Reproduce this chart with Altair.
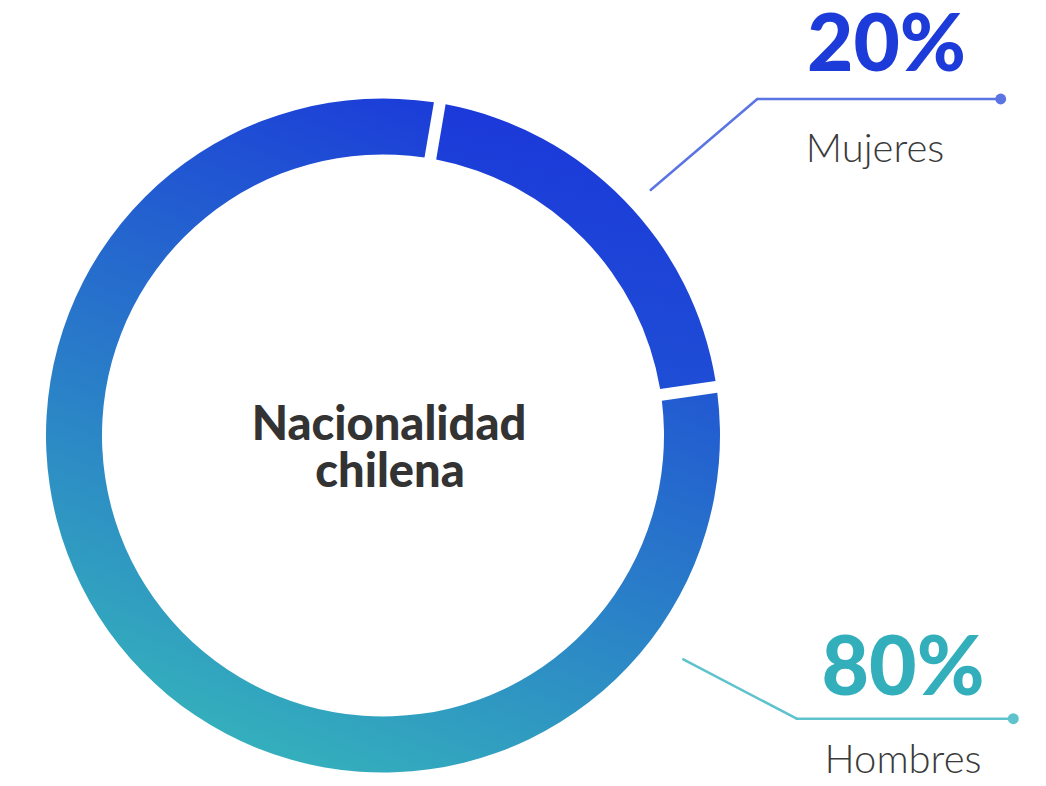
import math
import altair as alt
import pandas as pd

# ---- data ----
categories = ["Mujeres", "Hombres"]
values = [20, 80]
center_lines = ["Nacionalidad", "chilena"]

df = pd.DataFrame({"cat": categories, "value": values, "order": list(range(len(categories)))})
df_center = pd.DataFrame({"line": center_lines, "idx": list(range(len(center_lines)))})

# ---- layout / style ----
W, H = 1030, 770
CX, CY = 375, 427.5
R_OUT, R_IN = 337, 281
START = math.radians(9.7)
PAD = 0.027
FONT = "Lato"

BLUE = "#1c3bd9"
TEAL = "#33afbb"
BLUE_LINE = "#5b74e4"
TEAL_LINE = "#5ec3cc"
GREY = "#3a3a3a"

grad_mujeres = {
    "gradient": "linear", "x1": 0.6, "y1": 0, "x2": 0.4, "y2": 1,
    "stops": [{"offset": 0, "color": "#1b37da"}, {"offset": 1, "color": "#1f50d5"}],
}
grad_hombres = {
    "gradient": "linear", "x1": 0.7, "y1": 0, "x2": 0.3, "y2": 1,
    "stops": [{"offset": 0, "color": "#1a36da"},
              {"offset": 1, "color": "#35b3bb"}],
}

base = (
    alt.Chart(df)
    .transform_window(cum="sum(value)", sort=[alt.SortField("order")])
    .transform_calculate(start="datum.cum - datum.value", label="datum.value + '%'")
)

theta_scale = alt.Scale(domain=[0, 100], range=[START, START + 2 * math.pi])


def arc(cat, grad):
    return (
        base.transform_filter(alt.datum.cat == cat)
        .mark_arc(radius=R_OUT, innerRadius=R_IN, padAngle=PAD, fill=grad, strokeWidth=0)
        .encode(
            theta=alt.Theta("start:Q", scale=theta_scale),
            theta2="cum:Q",
            x=alt.value(CX),
            y=alt.value(CY),
        )
    )


def pct_text(cat, x, y, color, size):
    return (
        base.transform_filter(alt.datum.cat == cat)
        .mark_text(font=FONT, fontSize=size, fontWeight=900, color=color,
                   align="center", baseline="alphabetic")
        .encode(text="label:N", x=alt.value(x), y=alt.value(y))
    )


def name_text(cat, x, y):
    return (
        base.transform_filter(alt.datum.cat == cat)
        .mark_text(font=FONT, fontSize=40, fontWeight=300, color=GREY,
                   align="center", baseline="alphabetic")
        .encode(text="cat:N", x=alt.value(x), y=alt.value(y))
    )


def leader(cat, pts, color):
    layers = []
    for (xa, ya), (xb, yb) in zip(pts[:-1], pts[1:]):
        layers.append(
            base.transform_filter(alt.datum.cat == cat)
            .mark_rule(color=color, strokeWidth=2.5, strokeCap="round")
            .encode(x=alt.value(xa), y=alt.value(ya), x2=alt.value(xb), y2=alt.value(yb))
        )
    xe, ye = pts[-1]
    layers.append(
        base.transform_filter(alt.datum.cat == cat)
        .mark_circle(color=color, opacity=1, size=120)
        .encode(x=alt.value(xe), y=alt.value(ye))
    )
    return layers


def center_text(idx, x, y):
    return (
        alt.Chart(df_center)
        .transform_filter(alt.datum.idx == idx)
        .mark_text(font=FONT, fontSize=47, fontWeight=900, color="#333333",
                   align="center", baseline="alphabetic")
        .encode(text="line:N", x=alt.value(x), y=alt.value(y))
    )


layers = [
    arc("Mujeres", grad_mujeres),
    arc("Hombres", grad_hombres),
    center_text(0, 381, 432),
    center_text(1, 382, 479),
    pct_text("Mujeres", 878.5, 62.7, BLUE, 80),
    name_text("Mujeres", 867, 154),
    pct_text("Hombres", 895, 687, TEAL, 82),
    name_text("Hombres", 895, 765.3),
]
layers += leader("Mujeres", [(642.7, 182), (749.3, 91), (992.7, 91)], BLUE_LINE)
layers += leader("Hombres", [(675.3, 651.3), (788.7, 710.7), (1005.3, 710.7)], TEAL_LINE)

chart = (
    alt.layer(*layers)
    .properties(width=W, height=H, padding=0, autosize=alt.AutoSizeParams(type="none"))
    .configure_view(stroke=None)
)

chart.save("out.html", embed_options={"renderer": "svg", "actions": False})
